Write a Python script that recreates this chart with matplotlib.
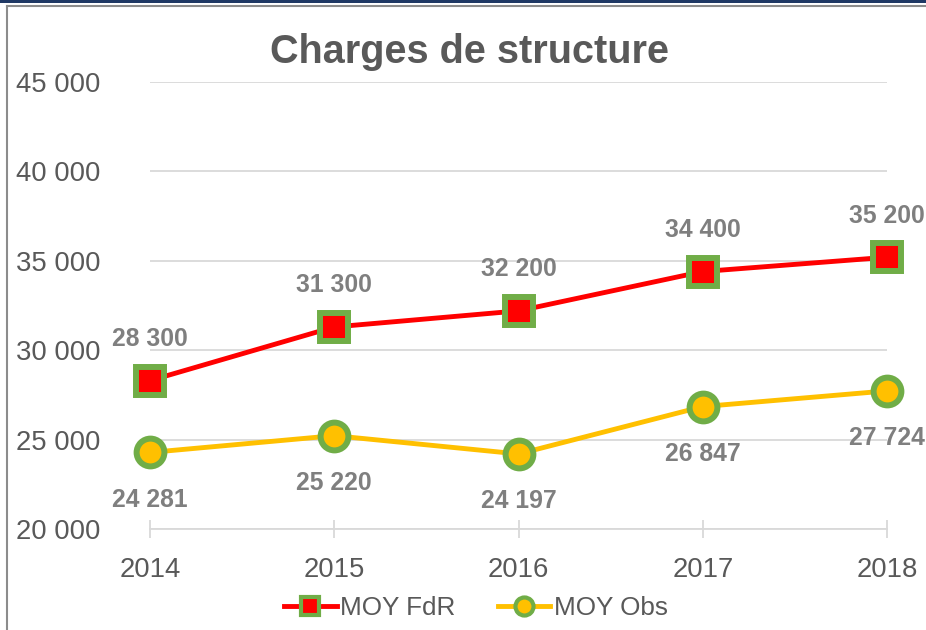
import matplotlib
matplotlib.use("Agg")
import matplotlib.pyplot as plt
from matplotlib.lines import Line2D
from matplotlib.patches import Rectangle

plt.rcParams['font.family'] = ['Liberation Sans', 'DejaVu Sans']

years = [2014, 2015, 2016, 2017, 2018]
moy_fdr = [28300, 31300, 32200, 34400, 35200]
moy_obs = [24281, 25220, 24197, 26847, 27724]
yticks = [20000, 25000, 30000, 35000, 40000, 45000]
title = "Charges de structure"
series_names = ["MOY FdR", "MOY Obs"]

def fmt(v):
    return f"{v:,}".replace(",", " ")

W, H = 926, 630
fig = plt.figure(figsize=(W / 100, H / 100), dpi=100)
ax = fig.add_axes([150 / W, 1 - 529 / H, (887 - 150) / W, (529 - 82) / H])

green = "#70AD47"
red = "#FF0000"
yellow = "#FFC000"
tick_col = "#595959"
lab_col = "#7F7F7F"
grid_col = "#D9D9D9"

ax.set_xlim(years[0], years[-1])
ax.set_ylim(yticks[0], yticks[-1])
ax.set_yticks(yticks)
ax.set_yticklabels([fmt(v) for v in yticks])
ax.set_xticks(years)
ax.set_xticklabels([str(y) for y in years])
ax.grid(axis='y', color=grid_col, linewidth=1.3)
ax.set_axisbelow(True)
for s in ['top', 'right', 'left']:
    ax.spines[s].set_visible(False)
ax.spines['bottom'].set_color(grid_col)
ax.spines['bottom'].set_linewidth(1.3)
ax.tick_params(axis='y', length=0, pad=36, labelsize=19.8, labelcolor=tick_col)
ax.tick_params(axis='x', direction='inout', length=13, width=1.3, color=grid_col,
               pad=14, labelsize=19.8, labelcolor=tick_col)
for lab in ax.get_yticklabels():
    lab.set_horizontalalignment('right')

ax.plot(years, moy_fdr, color=red, linewidth=3.5, marker='s', markersize=20,
        markerfacecolor=red, markeredgecolor=green, markeredgewidth=4.3,
        clip_on=False, zorder=3)
ax.plot(years, moy_obs, color=yellow, linewidth=3.5, marker='o', markersize=20,
        markerfacecolor=yellow, markeredgecolor=green, markeredgewidth=4.3,
        clip_on=False, zorder=3)

for x, v in zip(years, moy_fdr):
    ax.annotate(fmt(v), (x, v), xytext=(0, 30), textcoords='offset points',
                ha='center', va='center', fontsize=17.8, fontweight='bold',
                color=lab_col, annotation_clip=False)
for x, v in zip(years, moy_obs):
    ax.annotate(fmt(v), (x, v), xytext=(0, -34), textcoords='offset points',
                ha='center', va='center', fontsize=17.8, fontweight='bold',
                color=lab_col, annotation_clip=False)

fig.text(470 / W, 1 - 63 / H, title, ha='center', va='baseline',
         fontsize=28.5, fontweight='bold', color=tick_col)

handles = [
    Line2D([], [], color=red, linewidth=3.5, marker='s', markersize=13,
           markerfacecolor=red, markeredgecolor=green, markeredgewidth=3),
    Line2D([], [], color=yellow, linewidth=3.5, marker='o', markersize=13,
           markerfacecolor=yellow, markeredgecolor=green, markeredgewidth=3),
]
fig.legend(handles, series_names, loc='center', bbox_to_anchor=(476 / W, 1 - 608 / H),
           ncol=2, frameon=False, fontsize=18.8, labelcolor=tick_col,
           handlelength=2.0, handletextpad=0.15, columnspacing=1.6)

# frame decorations
fig.patches.append(Rectangle((0, 1 - 3.3 / H), 1, 3.3 / H, transform=fig.transFigure,
                             facecolor="#1F3864", edgecolor='none'))
fig.lines.append(Line2D([7 / W, 1], [1 - 5.7 / H, 1 - 5.7 / H], transform=fig.transFigure,
                        color="#8C8C8C", linewidth=1.5))
fig.lines.append(Line2D([7 / W, 7 / W], [0, 1 - 5.7 / H], transform=fig.transFigure,
                        color="#8C8C8C", linewidth=1.5))

fig.savefig("out.png", dpi=100)
